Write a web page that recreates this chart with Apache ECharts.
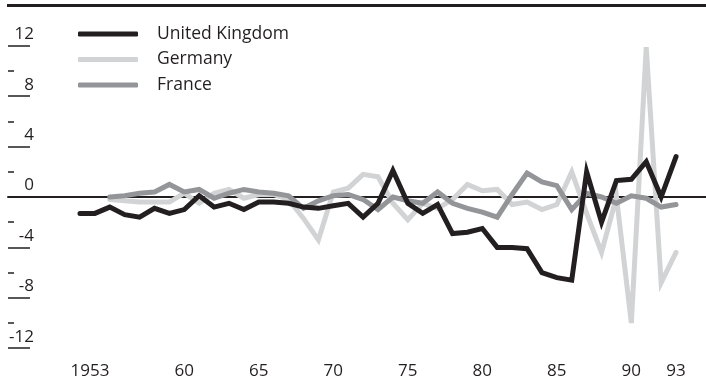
<!DOCTYPE html>
<html><head><meta charset="utf-8">
<script src="https://cdn.jsdelivr.net/npm/echarts@6/dist/echarts.min.js"></script>
<style>html,body{margin:0;padding:0;background:#fff}#c{width:706px;height:380px}</style>
</head><body><div id="c"></div>
<script>
const years = [1953,1954,1955,1956,1957,1958,1959,1960,1961,1962,1963,1964,1965,1966,1967,1968,1969,1970,1971,1972,1973,1974,1975,1976,1977,1978,1979,1980,1981,1982,1983,1984,1985,1986,1987,1988,1989,1990,1991,1992,1993];
const xTickYears = [1953,1960,1965,1970,1975,1980,1985,1990,1993];
const xTickLabels = ['1953','60','65','70','75','80','85','90','93'];
const yTickValues = [-12,-8,-4,0,4,8,12];
const yTickLabels = ['-12','-8','-4','0','4','8','12'];
const yMinorTicks = [-10,-6,-2,2,6,10];
const seriesNames = ['United Kingdom','Germany','France'];
const ukValues = [-1.3,-1.3,-0.8,-1.4,-1.6,-0.9,-1.3,-1.0,0.1,-0.8,-0.5,-1.0,-0.4,-0.4,-0.5,-0.8,-0.9,-0.7,-0.5,-1.6,-0.5,2.1,-0.5,-1.3,-0.6,-2.9,-2.8,-2.5,-4.0,-4.0,-4.1,-6.0,-6.4,-6.6,2.0,-2.0,1.3,1.4,2.8,0.0,3.2];
const germanyValues = [null,null,-0.2,-0.3,-0.4,-0.4,-0.4,0.3,-0.5,0.3,0.6,-0.1,0.2,0.2,-0.2,-1.7,-3.4,0.4,0.7,1.8,1.6,-0.5,-1.8,-0.5,-0.9,-0.2,1.0,0.5,0.6,-0.6,-0.4,-1.0,-0.6,2.0,-1.3,-4.4,0.0,-10.0,11.9,-6.8,-4.4];
const franceValues = [null,null,0.0,0.1,0.3,0.4,1.0,0.4,0.6,-0.1,0.3,0.6,0.4,0.3,0.1,-0.9,-0.3,0.1,0.2,-0.2,-1.0,0.0,-0.3,-0.5,0.4,-0.5,-0.9,-1.2,-1.6,0.2,1.9,1.2,0.9,-1.0,0.3,0.0,-0.5,0.1,-0.1,-0.8,-0.6];
const colors = ['#231f20','#d1d3d4','#939598'];

const FONT = 'Open Sans';
const xMin = 1948.17, xMax = 1995.01, yMin = -13, yMax = 13;
const gridBox = {left: 8, right: 0, top: 33.2, bottom: 19.2};
const toPairs = vals => years.map((y, i) => [y, vals[i]]);

const chart = echarts.init(document.getElementById('c'), null, {renderer: 'canvas'});
chart.setOption({
  animation: false,
  backgroundColor: '#fff',
  textStyle: {fontFamily: FONT},
  grid: [Object.assign({}, gridBox), Object.assign({}, gridBox)],
  legend: {
    data: seriesNames, orient: 'vertical', left: 78, top: 24, padding: 0,
    itemWidth: 60, itemHeight: 5, itemGap: 5.5, icon: 'roundRect',
    textStyle: {fontFamily: FONT, fontSize: 17.5, lineHeight: 20, color: '#231f20', padding: [0,0,0,14]}
  },
  xAxis: [{
    type: 'value', gridIndex: 0, min: xMin, max: xMax,
    axisLine: {show: false}, axisTick: {show: false}, splitLine: {show: false},
    axisLabel: {
      customValues: xTickYears, margin: 2, fontSize: 17, color: '#231f20', fontFamily: FONT,
      formatter: v => { const i = xTickYears.indexOf(v); return i === 0 ? '{a|' + xTickLabels[i] + '}' : xTickLabels[i]; },
      rich: {a: {fontSize: 17, fontFamily: FONT, color: '#231f20', padding: [0,0,0,20]}}
    }
  }, {
    type: 'value', gridIndex: 1, min: xMin, max: xMax,
    axisLine: {show: true, onZero: true, lineStyle: {color: '#231f20', width: 2}},
    axisTick: {show: false}, axisLabel: {show: false}, splitLine: {show: false}
  }],
  yAxis: [{
    type: 'value', gridIndex: 0, min: yMin, max: yMax, position: 'left',
    axisLine: {show: false}, splitLine: {show: false},
    axisTick: {show: true, inside: true, length: 22, customValues: yTickValues, lineStyle: {color: '#231f20', width: 1.5}},
    axisLabel: {
      inside: true, align: 'right', margin: 26, verticalAlign: 'bottom', padding: [0,0,3,0],
      customValues: yTickValues, fontSize: 17, color: '#231f20', fontFamily: FONT,
      formatter: v => yTickLabels[yTickValues.indexOf(v)]
    }
  }, {
    type: 'value', gridIndex: 1, min: yMin, max: yMax, position: 'left',
    axisLine: {show: false}, splitLine: {show: false}, axisLabel: {show: false},
    axisTick: {show: true, inside: true, length: 6, customValues: yMinorTicks, lineStyle: {color: '#231f20', width: 1.5}}
  }],
  graphic: [{
    type: 'line', shape: {x1: 7, y1: 5.5, x2: 706, y2: 5.5},
    style: {stroke: '#231f20', lineWidth: 3}, silent: true
  }],
  series: [
    {name: seriesNames[1], data: toPairs(germanyValues), color: colors[1], z: 2},
    {name: seriesNames[2], data: toPairs(franceValues), color: colors[2], z: 3},
    {name: seriesNames[0], data: toPairs(ukValues), color: colors[0], z: 4}
  ].map(s => Object.assign({
    type: 'line', xAxisIndex: 0, yAxisIndex: 0, symbol: 'none', showSymbol: false,
    lineStyle: {width: 5, join: 'miter', cap: 'round', color: s.color}
  }, s))
});
</script>
</body></html>
